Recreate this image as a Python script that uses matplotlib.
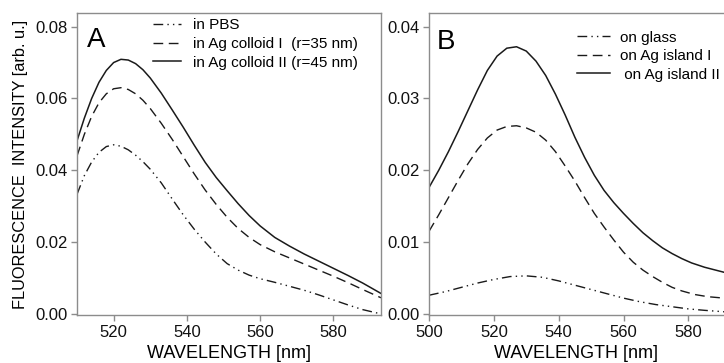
import matplotlib
matplotlib.use("Agg")
import matplotlib.pyplot as plt

plt.rcParams['font.family'] = ['Liberation Sans', 'DejaVu Sans']

# Panel A data (wavelength nm, intensity)
wl_pbs = [510, 512, 514, 516, 518, 520, 522, 524, 526, 528, 530, 533, 536, 539, 542, 545, 548, 551, 554, 557, 560, 564, 568, 572, 576, 580, 584, 588, 593]
int_pbs = [0.0333, 0.0385, 0.0423, 0.0450, 0.0466, 0.0471, 0.0467, 0.0457, 0.0442, 0.0424, 0.0403, 0.0365, 0.0320, 0.0276, 0.0236, 0.0200, 0.0167, 0.0140, 0.0122, 0.0108, 0.0098, 0.0088, 0.0077, 0.0066, 0.0053, 0.0039, 0.0025, 0.0012, 0.0000]

wl_col1 = [510, 512, 514, 516, 518, 520, 522, 524, 526, 528, 530, 533, 536, 539, 542, 545, 548, 551, 554, 557, 560, 564, 568, 572, 576, 580, 584, 588, 593]
int_col1 = [0.0440, 0.0500, 0.0550, 0.0588, 0.0613, 0.0627, 0.0630, 0.0625, 0.0613, 0.0595, 0.0572, 0.0531, 0.0486, 0.0438, 0.0390, 0.0345, 0.0305, 0.0269, 0.0238, 0.0213, 0.0193, 0.0173, 0.0156, 0.0139, 0.0122, 0.0105, 0.0087, 0.0068, 0.0045]

wl_col2 = [510, 512, 514, 516, 518, 520, 522, 524, 526, 528, 530, 533, 536, 539, 542, 545, 548, 551, 554, 557, 560, 564, 568, 572, 576, 580, 584, 588, 593]
int_col2 = [0.0482, 0.0545, 0.0600, 0.0645, 0.0678, 0.0700, 0.0709, 0.0707, 0.0697, 0.0680, 0.0657, 0.0615, 0.0568, 0.0520, 0.0470, 0.0422, 0.0380, 0.0343, 0.0307, 0.0274, 0.0245, 0.0213, 0.0189, 0.0167, 0.0147, 0.0127, 0.0107, 0.0086, 0.0057]

labels_a = ["in PBS", "in Ag colloid I  (r=35 nm)", "in Ag colloid II (r=45 nm)"]

# Panel B data
wl_glass = [500, 505, 510, 515, 520, 525, 530, 535, 540, 545, 550, 555, 560, 565, 570, 575, 580, 585, 591]
int_glass = [0.0026, 0.0031, 0.0037, 0.0043, 0.0048, 0.0052, 0.0053, 0.0051, 0.0046, 0.0040, 0.0034, 0.0028, 0.0022, 0.0017, 0.0013, 0.0010, 0.0007, 0.0005, 0.0003]

wl_isl1 = [500, 503, 506, 509, 512, 515, 518, 521, 524, 527, 530, 533, 536, 539, 542, 545, 548, 551, 554, 557, 560, 563, 566, 569, 572, 575, 578, 582, 586, 591]
int_isl1 = [0.0115, 0.0138, 0.0162, 0.0186, 0.0209, 0.0229, 0.0245, 0.0256, 0.0261, 0.0262, 0.0259, 0.0253, 0.0242, 0.0226, 0.0206, 0.0185, 0.0162, 0.0140, 0.0121, 0.0103, 0.0086, 0.0072, 0.0061, 0.0052, 0.0044, 0.0037, 0.0032, 0.0027, 0.0024, 0.0022]

wl_isl2 = [500, 503, 506, 509, 512, 515, 518, 521, 524, 527, 530, 533, 536, 539, 542, 545, 548, 551, 554, 557, 560, 563, 566, 569, 572, 575, 578, 581, 585, 591]
int_isl2 = [0.0176, 0.0200, 0.0226, 0.0254, 0.0283, 0.0312, 0.0339, 0.0359, 0.0370, 0.0372, 0.0366, 0.0352, 0.0332, 0.0306, 0.0277, 0.0246, 0.0218, 0.0193, 0.0172, 0.0155, 0.0140, 0.0126, 0.0113, 0.0102, 0.0092, 0.0084, 0.0077, 0.0071, 0.0065, 0.0058]

labels_b = ["on glass", "on Ag island I", " on Ag island II"]

yticks_a = [0.00, 0.02, 0.04, 0.06, 0.08]
yticks_b = [0.00, 0.01, 0.02, 0.03, 0.04]
xticks_a = [520, 540, 560, 580]
xticks_b = [500, 520, 540, 560, 580]

LC = '#1a1a1a'
SP = '#8c8c8c'
DDD = (0, (7, 3, 1, 3, 1, 3))
DASH = (0, (7, 4))

fig = plt.figure(figsize=(7.24, 3.63), dpi=100)
axA = fig.add_axes([77/724, 48/363, 304/724, 302/363])
axB = fig.add_axes([429/724, 48/363, 295/724, 302/363])

def style(ax):
    for s in ax.spines.values():
        s.set_color(SP)
        s.set_linewidth(1.0)
    ax.tick_params(direction='out', length=4, width=1, color=SP, labelsize=12, pad=3, labelcolor='#111111')

axA.plot(wl_pbs, int_pbs, color=LC, lw=1.0, linestyle=DDD, label=labels_a[0])
axA.plot(wl_col1, int_col1, color=LC, lw=1.0, linestyle=DASH, label=labels_a[1])
axA.plot(wl_col2, int_col2, color=LC, lw=1.1, linestyle='-', label=labels_a[2])
axA.set_xlim(510, 593)
axA.set_ylim(-0.0003, 0.0838)
axA.set_xticks(xticks_a)
axA.set_yticks(yticks_a)
axA.set_yticklabels([f"{v:.2f}" for v in yticks_a])
style(axA)
axA.set_xlabel("WAVELENGTH [nm]", fontsize=13, labelpad=4)
axA.set_ylabel("FLUORESCENCE  INTENSITY [arb. u.]", fontsize=11.8, labelpad=5)
axA.text(0.033, 0.887, "A", transform=axA.transAxes, fontsize=20, va='baseline', ha='left')
axA.legend(loc='upper left', bbox_to_anchor=(0.25, 0.982), frameon=False, fontsize=11,
           handlelength=1.83, handletextpad=0.78, labelspacing=0.3, borderpad=0, borderaxespad=0)

axB.plot(wl_glass, int_glass, color=LC, lw=1.0, linestyle=DDD, label=labels_b[0])
axB.plot(wl_isl1, int_isl1, color=LC, lw=1.0, linestyle=DASH, label=labels_b[1])
axB.plot(wl_isl2, int_isl2, color=LC, lw=1.1, linestyle='-', label=labels_b[2])
axB.set_xlim(500, 591)
axB.set_ylim(-0.00015, 0.0419)
axB.set_xticks(xticks_b)
axB.set_yticks(yticks_b)
axB.set_yticklabels([f"{v:.2f}" for v in yticks_b])
style(axB)
axB.spines['right'].set_visible(False)
axB.set_xlabel("WAVELENGTH [nm]", fontsize=13, labelpad=4)
axB.text(0.027, 0.881, "B", transform=axB.transAxes, fontsize=20, va='baseline', ha='left')
axB.legend(loc='upper left', bbox_to_anchor=(0.502, 0.942), frameon=False, fontsize=11,
           handlelength=2.15, handletextpad=0.65, labelspacing=0.3, borderpad=0, borderaxespad=0)

fig.savefig("out.png", dpi=100)
